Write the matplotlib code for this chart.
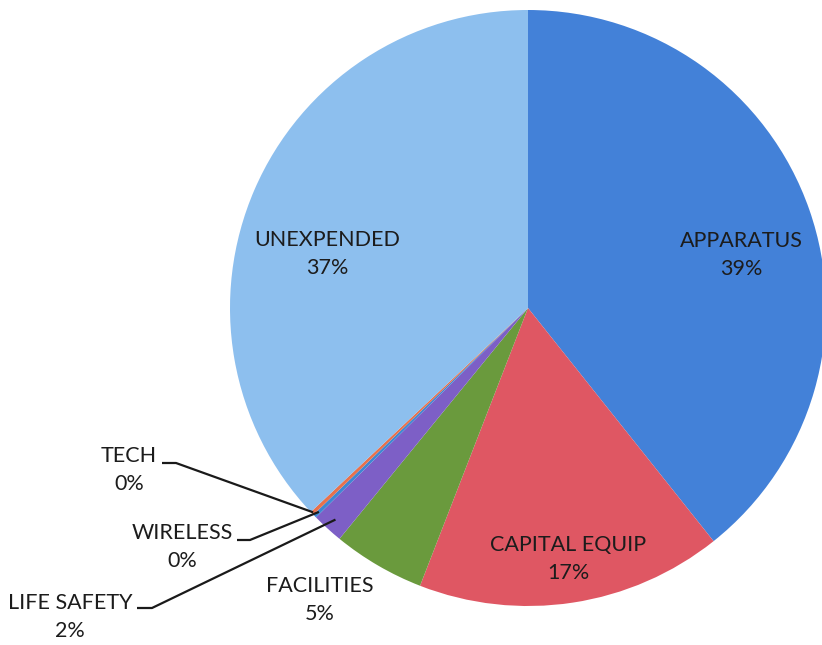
import numpy as np
import matplotlib
matplotlib.use("Agg")
import matplotlib.pyplot as plt

labels = ["APPARATUS", "CAPITAL EQUIP", "FACILITIES", "LIFE SAFETY", "WIRELESS", "TECH", "UNEXPENDED"]
values = [39.3, 16.6, 5.0, 1.7, 0.2, 0.2, 37.0]
pct_text = ["39%", "17%", "5%", "2%", "0%", "0%", "37%"]
colors = ["#4381D8", "#DF5763", "#6A9A3D", "#7D5FC6", "#3F86D2", "#E8714C", "#8DBFEE"]

W, H = 822, 645
plt.rcParams["font.family"] = ["Lato", "DejaVu Sans"]

fig = plt.figure(figsize=(W / 100, H / 100), dpi=100)
ax = fig.add_axes([0, 0, 1, 1])

cx, cy, r = 528, H - 308, 298
wedges, _ = ax.pie(values, colors=colors, startangle=90, counterclock=False,
                   center=(cx, cy), radius=r, frame=True)
ax.set_xlim(0, W)
ax.set_ylim(0, H)
ax.set_aspect("equal")
ax.axis("off")


def px(x, y):
    return x, H - y


txt = dict(ha="center", va="center", fontsize=15.5, color="#1c1c1c", linespacing=1.55)

# labels inside / near the pie (pixel positions from top-left)
inside = {"APPARATUS": (741, 255), "CAPITAL EQUIP": (568, 559),
          "UNEXPENDED": (327, 254), "FACILITIES": (320, 600)}
for name, (x, y) in inside.items():
    i = labels.index(name)
    ax.text(*px(x, y), name + "\n" + pct_text[i], **txt)

# small slices with leader lines
outside = {"TECH": ((129, 470), (162, 463), (176, 463), 0.995),
           "WIRELESS": ((182, 547), (237, 540), (250, 540), 0.98),
           "LIFE SAFETY": ((70, 617), (137, 608), (152, 608), 0.96)}
for name, ((tx, ty), (l0x, l0y), (l1x, l1y), rf) in outside.items():
    i = labels.index(name)
    ax.text(*px(tx, ty), name + "\n" + pct_text[i], **txt)
    w = wedges[i]
    ang = np.deg2rad((w.theta1 + w.theta2) / 2)
    ex, ey = cx + rf * r * np.cos(ang), cy + rf * r * np.sin(ang)
    ax.plot([px(l0x, l0y)[0], px(l1x, l1y)[0], ex],
            [px(l0x, l0y)[1], px(l1x, l1y)[1], ey],
            color="#1a1a1a", lw=1.6, solid_capstyle="butt")

fig.savefig("out.png", dpi=100, facecolor="white")
